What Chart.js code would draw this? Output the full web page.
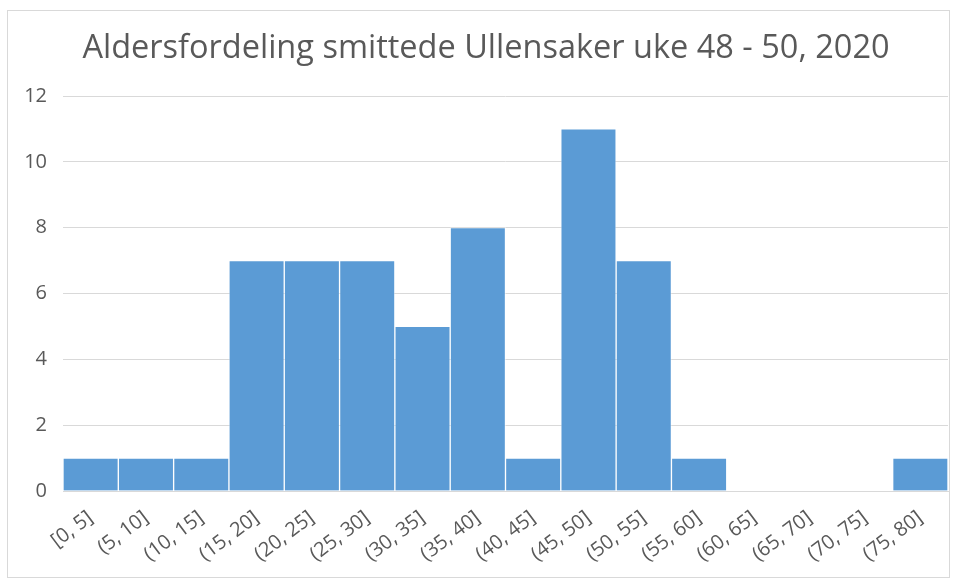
<!DOCTYPE html>
<html>
<head>
<meta charset="utf-8">
<script src="https://cdn.jsdelivr.net/npm/chart.js@4"></script>
<style>
  body { margin: 0; background: #fff; }
  #box { position: absolute; left: 7px; top: 10px; width: 943px; height: 568px; border: 1px solid #d9d9d9; box-sizing: border-box; }
  canvas { display: block; }
</style>
</head>
<body>
<div id="box"><canvas id="myChart" width="941" height="566"></canvas></div>
<script>
// aldersgrupper og antall smittede
const labels = ['[0, 5]', '(5, 10]', '(10, 15]', '(15, 20]', '(20, 25]', '(25, 30]', '(30, 35]', '(35, 40]',
    '(40, 45]', '(45, 50]', '(50, 55]', '(55, 60]', '(60, 65]', '(65, 70]', '(70, 75]', '(75, 80]'];
const antall = [1, 1, 1, 7, 7, 7, 5, 8, 1, 11, 7, 1, 0, 0, 0, 1];
const yTicks = [0, 2, 4, 6, 8, 10, 12];

const ctx = document.querySelector("#myChart");
const grey = '#595959';
const font = "'Open Sans', sans-serif";

new Chart(ctx, {
    type: 'bar',
    data: {
        labels: labels,
        datasets: [
            {
                label: 'Antall',
                data: antall,
                backgroundColor: '#5b9bd5',
                borderColor: 'rgba(255,255,255,0.35)',
                borderWidth: 1,
                barPercentage: 1,
                categoryPercentage: 1
            }
        ]
    },
    options: {
        responsive: false,
        animation: false,
        layout: { padding: { top: 0, right: 1, bottom: 6, left: 16 } },
        plugins: {
            legend: { display: false },
            tooltip: { enabled: false },
            title: {
                display: true,
                text: 'Aldersfordeling smittede Ullensaker uke 48 - 50, 2020',
                color: grey,
                font: { family: font, size: 32.5, weight: 'normal' },
                padding: { top: 18, bottom: 28 }
            }
        },
        scales: {
            x: {
                grid: { display: false },
                border: { color: '#d9d9d9' },
                ticks: {
                    color: grey,
                    font: { family: font, size: 20 },
                    minRotation: 37,
                    maxRotation: 37,
                    autoSkip: false,
                    padding: 7
                },
                afterFit: (s) => { s.height = 80; }
            },
            y: {
                min: 0,
                max: 12,
                afterBuildTicks: (s) => { s.ticks = yTicks.map(v => ({ value: v })); },
                grid: { color: '#d9d9d9', drawTicks: false },
                border: { display: false },
                ticks: {
                    color: grey,
                    font: { family: font, size: 20 },
                    padding: 16
                },
                afterFit: (s) => { s.width = 39; }
            }
        }
    }
});
</script>
</body>
</html>
